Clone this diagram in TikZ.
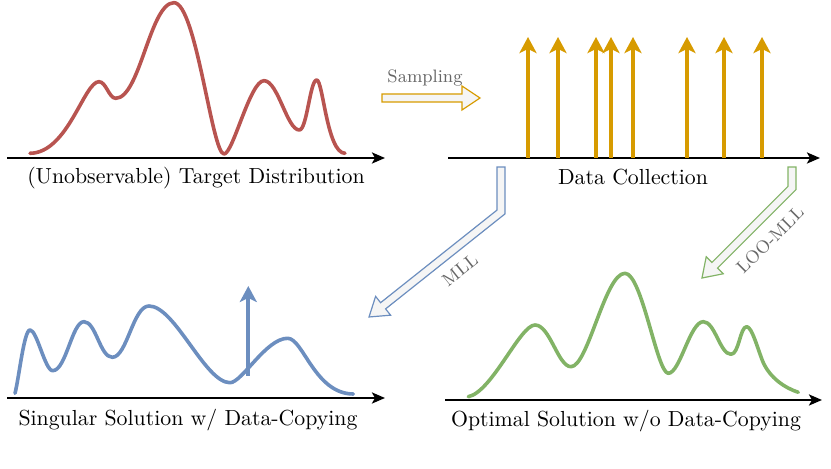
\documentclass[tikz,border=0pt]{standalone}
\usetikzlibrary{arrows.meta}
\definecolor{cred}{HTML}{B85450}
\definecolor{corange}{HTML}{D79B00}
\definecolor{cblue}{HTML}{6C8EBF}
\definecolor{cgreen}{HTML}{82B366}
\definecolor{cfill}{HTML}{F5F5F5}
\definecolor{cgray}{HTML}{666666}
\begin{document}
\begin{tikzpicture}[x=0.5pt,y=-0.5pt,
  axis/.style={line width=1.2pt,-{Stealth[length=6.5pt,width=5.5pt,inset=1.5pt]}},
  curve/.style={line width=1.8pt,line cap=round,line join=round},
  spike/.style={line width=1.9pt,-{Stealth[length=8pt,width=8.5pt,inset=2pt]}},
  caption/.style={font=\fontsize{10.9}{12}\selectfont,inner sep=0pt},
  small/.style={font=\fontsize{9}{10}\selectfont,text=cgray,inner sep=0pt},
  blockarrow/.style={line width=0.6pt,fill=cfill,line join=miter}]
\useasboundingbox (0,0) rectangle (831,469);

% ---------- top-left: target distribution ----------
\coordinate (a1s) at (7,158); \coordinate (a1e) at (385,158);
\draw[axis] (a1s) -- (a1e);
\draw[curve,cred] (30,153.3)
  .. controls (68,153) and (84,81.7) .. (99,81.7)
  .. controls (106,81.7) and (109,98.3) .. (115.7,98.3)
  .. controls (140,98.3) and (150,2.7) .. (174,2.7)
  .. controls (196,2.7) and (212,154) .. (224,154)
  .. controls (233,154) and (250,80.7) .. (264,80.7)
  .. controls (278,80.7) and (287,130) .. (299.3,130)
  .. controls (307,130) and (310,80) .. (316.7,80)
  .. controls (323,80) and (327,153.3) .. (345,153.3);
\node[caption] (l1) at (196,178) {(Unobservable) Target Distribution};

% ---------- sampling arrow ----------
\draw[blockarrow,draw=corange] (382,94) -- (462,94) -- (462,86) -- (480,98)
  -- (462,110) -- (462,102) -- (382,102) -- cycle;
\node[small] (samp) at (425,78) {Sampling};

% ---------- top-right: data collection ----------
\coordinate (a2s) at (448,158); \coordinate (a2e) at (820,158);
\draw[axis] (a2s) -- (a2e);
\foreach \x [count=\i] in {528,558,596,611,633,687,724,762}{
  \coordinate (b\i) at (\x,158); \coordinate (t\i) at (\x,37);
  \draw[spike,corange] (b\i) -- (t\i);
}
\node[caption] (l2) at (633,177) {Data Collection};

% ---------- MLL arrow ----------
\draw[blockarrow,draw=cblue] (497,167) -- (497,210.1) -- (380.6,302.7) -- (375.6,296.4)
  -- (369,317) -- (390.6,315.2) -- (385.6,308.9) -- (505,213.9) -- (505,167) -- cycle;
\node[small,rotate=38.5] (mll) at (460,270) {MLL};

% ---------- LOO-MLL arrow ----------
\draw[blockarrow,draw=cgreen] (788,167) -- (788,186.4) -- (711.9,262.5) -- (706.2,256.8)
  -- (702,278) -- (723.2,273.8) -- (717.5,268.1) -- (796,189.6) -- (796,167) -- cycle;
\node[small,rotate=45] (loo) at (770,240) {LOO-MLL};

% ---------- bottom-left: singular solution ----------
\coordinate (a3s) at (7,398); \coordinate (a3e) at (385,398);
\draw[axis] (a3s) -- (a3e);
\draw[curve,cblue] (15,393.3)
  .. controls (19,378) and (24,330) .. (30,330)
  .. controls (37,330) and (45,370.7) .. (52.7,370.7)
  .. controls (66,370.7) and (72,321.7) .. (84,321.7)
  .. controls (96,321.7) and (100,357.3) .. (112.3,357.3)
  .. controls (127,357.3) and (133,306) .. (149,306)
  .. controls (175,306) and (205,382.7) .. (230,382.7)
  .. controls (242,382.7) and (266,338.3) .. (287.7,338.3)
  .. controls (303,338.3) and (315,394) .. (353.3,394);
\coordinate (sb) at (248.3,376); \coordinate (st) at (248.3,286);
\draw[spike,cblue] (sb) -- (st);
\node[caption] (l3) at (188,420) {Singular Solution w/ Data-Copying};

% ---------- bottom-right: optimal solution ----------
\coordinate (a4s) at (445,400); \coordinate (a4e) at (822,400);
\draw[axis] (a4s) -- (a4e);
\draw[curve,cgreen] (468.3,396.7)
  .. controls (492,392) and (520,325) .. (535,325)
  .. controls (550,325) and (558,366.7) .. (571,366.7)
  .. controls (588,366.7) and (605,273.3) .. (625,273.3)
  .. controls (642,273.3) and (657,373.3) .. (668.3,373.3)
  .. controls (680,373.3) and (690,321.7) .. (703.3,321.7)
  .. controls (715,321.7) and (720,354.3) .. (731,354.3)
  .. controls (739,354.3) and (740,326.7) .. (746.7,326.7)
  .. controls (752,326.7) and (758,350) .. (763,362)
  .. controls (770,378) and (785,388) .. (798.3,392.3);
\node[caption] (l4) at (626,421) {Optimal Solution w/o Data-Copying};
\end{tikzpicture}
\end{document}
